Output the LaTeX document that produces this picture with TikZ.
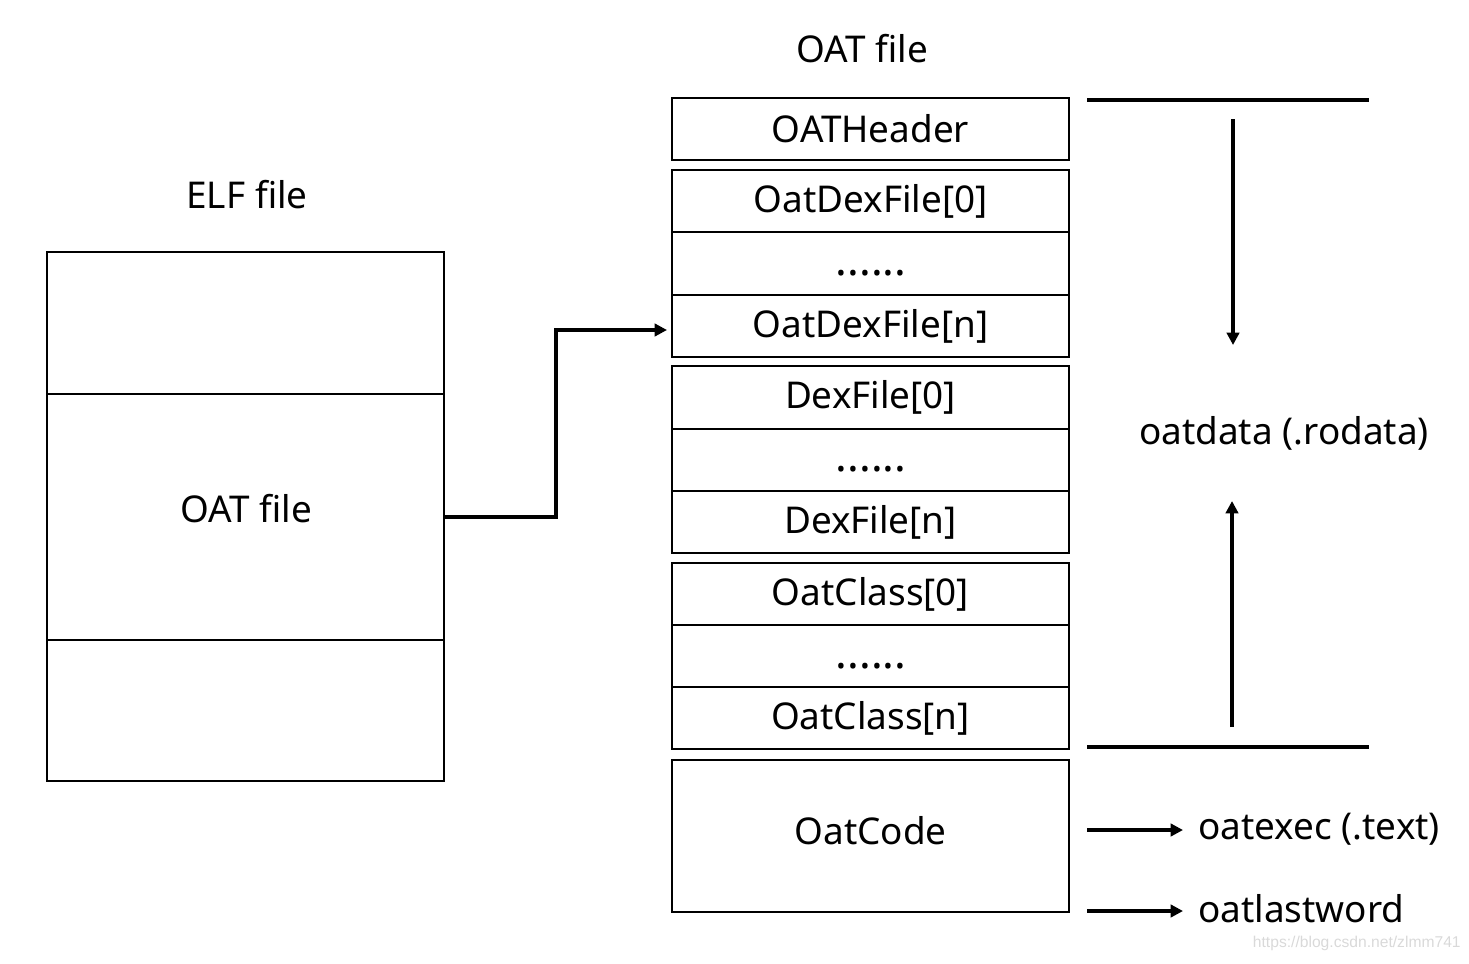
\documentclass[tikz,border=0pt]{standalone}
\usepackage{fontspec}
\setmainfont{Noto Sans}
\newfontfamily\wmfont{Liberation Sans}
\usetikzlibrary{arrows.meta}
\begin{document}
\begin{tikzpicture}[x=0.02cm,y=-0.02cm,
  cell/.style={draw,line width=1.2pt,minimum width=7.94cm,inner sep=0pt,font=\fontsize{21}{25}\selectfont},
  lbl/.style={inner sep=0pt,font=\fontsize{21}{25}\selectfont},
  dots/.style={inner sep=0pt,anchor=base,font=\fontsize{25}{30}\selectfont\bfseries},
  conn/.style={line width=1.8pt,-{Triangle[length=7pt,width=7pt]}},
  rule/.style={line width=1.8pt}]
\useasboundingbox (0,0) rectangle (1469,963);
% ELF file
\node[lbl] (elft) at (247,195) {ELF file};
\node[cell,minimum height=2.84cm] (e1) at (245.5,323) {};
\node[cell,minimum height=4.92cm] (e2) at (245.5,517) {};
\node[cell,minimum height=2.82cm] (e3) at (245.5,710.5) {};
\node[lbl] (e2t) at (246,509) {OAT file};
% OAT file
\node[lbl] (oatt) at (862,49) {OAT file};
\node[cell,minimum height=1.24cm] (hdr) at (870.5,129) {OATHeader};
\node[cell,minimum height=1.25cm] (d0) at (870.5,201) {OatDexFile[0]};
\node[cell,minimum height=1.25cm] (d1) at (870.5,263.5) {};
\node[cell,minimum height=1.25cm] (dn) at (870.5,326) {OatDexFile[n]};
\node[cell,minimum height=1.25cm] (f0) at (870.5,397.5) {DexFile[0]};
\node[cell,minimum height=1.25cm] (f1) at (870.5,460) {};
\node[cell,minimum height=1.25cm] (fn) at (870.5,522) {DexFile[n]};
\node[cell,minimum height=1.25cm] (c0) at (870.5,594) {OatClass[0]};
\node[cell,minimum height=1.25cm] (c1) at (870.5,656) {};
\node[cell,minimum height=1.25cm] (cn) at (870.5,718) {OatClass[n]};
\node[cell,minimum height=3.04cm] (code) at (870.5,836) {};
\node[lbl] (codet) at (870.5,831) {OatCode};
\node[dots] (d1t) at (871,275) {......};
\node[dots] (f1t) at (871,471) {......};
\node[dots] (c1t) at (871,668) {......};
% connector
\coordinate (tip) at (667,330);
\draw[conn] (e2.east) -- (556,517) |- (tip);
% right side
\coordinate (r1a) at (1087,100); \coordinate (r1b) at (1369,100);
\coordinate (r2a) at (1087,747); \coordinate (r2b) at (1369,747);
\draw[rule] (r1a) -- (r1b);
\draw[rule] (r2a) -- (r2b);
\node[lbl] (rod) at (1284,433) {oatdata (.rodata)};
\coordinate (dA) at (1233,119); \coordinate (dB) at (1233,345);
\coordinate (uA) at (1232,727); \coordinate (uB) at (1232,501);
\draw[conn] (dA) -- (dB);
\draw[conn] (uA) -- (uB);
\node[lbl,anchor=west] (ex) at (1198,829) {oatexec (.text)};
\node[lbl,anchor=west] (lw) at (1198,909) {oatlastword};
\coordinate (exA) at (1087,830); \coordinate (exB) at (1183,830);
\coordinate (lwA) at (1087,911); \coordinate (lwB) at (1183,911);
\draw[conn] (exA) -- (exB);
\draw[conn] (lwA) -- (lwB);
\node[inner sep=0pt,anchor=east,text=black!15,font=\fontsize{8.9}{10}\selectfont\wmfont] (wm) at (1461,943) {https://blog.csdn.net/zlmm741};
\end{tikzpicture}
\end{document}
